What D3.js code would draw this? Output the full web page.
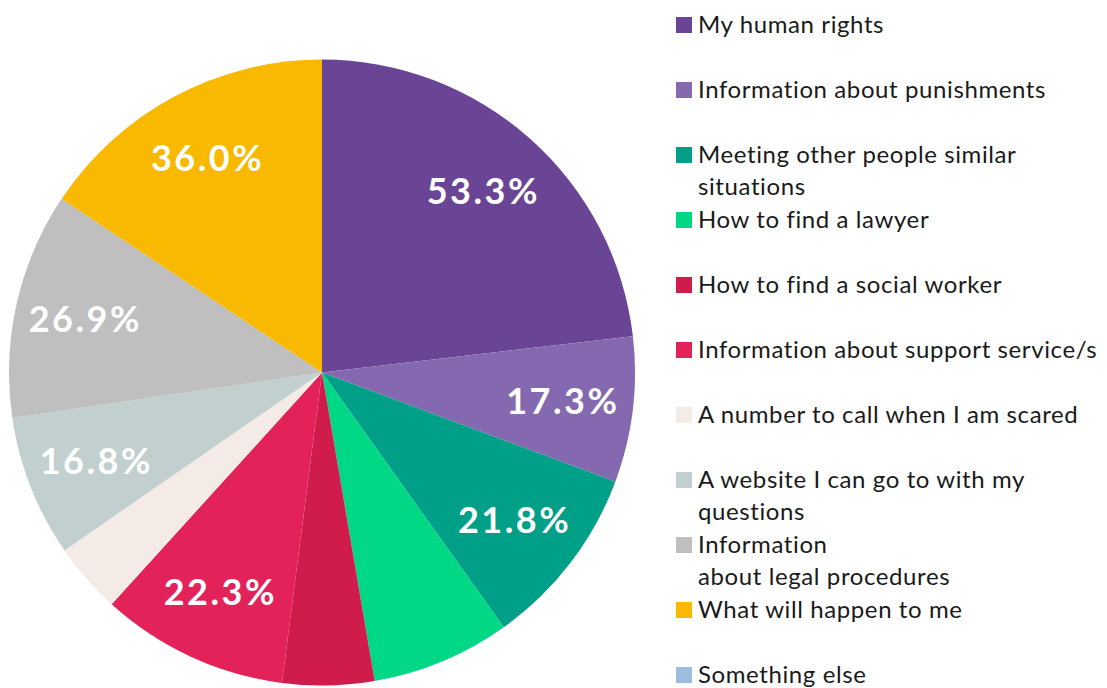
<!DOCTYPE html>
<html>
<head>
<meta charset="utf-8">
<script src="https://cdn.jsdelivr.net/npm/d3@7"></script>
<style>
  html, body { margin: 0; padding: 0; background: #fff; }
  svg { display: block; font-family: Lato, "Noto Sans", sans-serif; }
  .slice-label { fill: #fff; font-weight: 700; font-size: 36px; letter-spacing: 2.5px; }
  .legend-text { fill: #1a1a1a; font-size: 24px; letter-spacing: 0.6px; }
</style>
</head>
<body>
<svg id="chart" width="1107" height="688"></svg>
<script>
// Survey answers (multiple choice, so percentages add up beyond 100)
const categories = [
  'My human rights',
  'Information about punishments',
  'Meeting other people similar situations',
  'How to find a lawyer',
  'How to find a social worker',
  'Information about support service/s',
  'A number to call when I am scared',
  'A website I can go to with my questions',
  'Information about legal procedures',
  'What will happen to me',
  'Something else'
];
const values = [53.3, 17.3, 21.8, 16.5, 10.9, 22.3, 8.4, 16.8, 26.9, 36.0, 0];
const showLabel = [true, true, true, false, false, true, false, true, true, true, false];
const legendLines = [
  ['My human rights'],
  ['Information about punishments'],
  ['Meeting other people similar', 'situations'],
  ['How to find a lawyer'],
  ['How to find a social worker'],
  ['Information about support service/s'],
  ['A number to call when I am scared'],
  ['A website I can go to with my', 'questions'],
  ['Information', 'about legal procedures'],
  ['What will happen to me'],
  ['Something else']
];
const colors = ['#6a4595', '#8569b0', '#00a088', '#00d886', '#cf1c4b', '#e4225a',
                '#f5ebe6', '#c1cfcf', '#bfbfbf', '#f8b900', '#9dbde0'];

const svg = d3.select('#chart');
const cx = 322, cy = 372.5, radius = 313;

const color = d3.scaleOrdinal().domain(categories).range(colors);

const pie = d3.pie().sort(null).value(d => d.value);
const data = categories.map((c, i) => ({ name: c, value: values[i], label: showLabel[i] }));
const arcs = pie(data);

const arc = d3.arc().innerRadius(0).outerRadius(radius);
const labelArc = d3.arc().innerRadius(radius * 0.775).outerRadius(radius * 0.775);

const g = svg.append('g').attr('transform', `translate(${cx},${cy})`);

g.selectAll('path')
  .data(arcs)
  .join('path')
  .attr('d', arc)
  .attr('fill', d => color(d.data.name));

g.selectAll('text')
  .data(arcs.filter(d => d.data.label))
  .join('text')
  .attr('class', 'slice-label')
  .attr('transform', d => `translate(${labelArc.centroid(d)})`)
  .attr('text-anchor', 'middle')
  .attr('dy', '0.35em')
  .text(d => d3.format('.1f')(d.data.value) + '%');

// Legend
const legend = svg.append('g').attr('transform', 'translate(676,33)');
const rowStep = 65, lineStep = 32;

const item = legend.selectAll('g')
  .data(categories)
  .join('g')
  .attr('transform', (d, i) => `translate(0,${i * rowStep})`);

item.append('rect')
  .attr('x', 0)
  .attr('y', -16)
  .attr('width', 16)
  .attr('height', 16)
  .attr('fill', d => color(d));

item.append('text')
  .attr('class', 'legend-text')
  .attr('x', 22)
  .selectAll('tspan')
  .data((d, i) => legendLines[i])
  .join('tspan')
  .attr('x', 22)
  .attr('y', (d, j) => j * lineStep)
  .text(d => d);
</script>
</body>
</html>
